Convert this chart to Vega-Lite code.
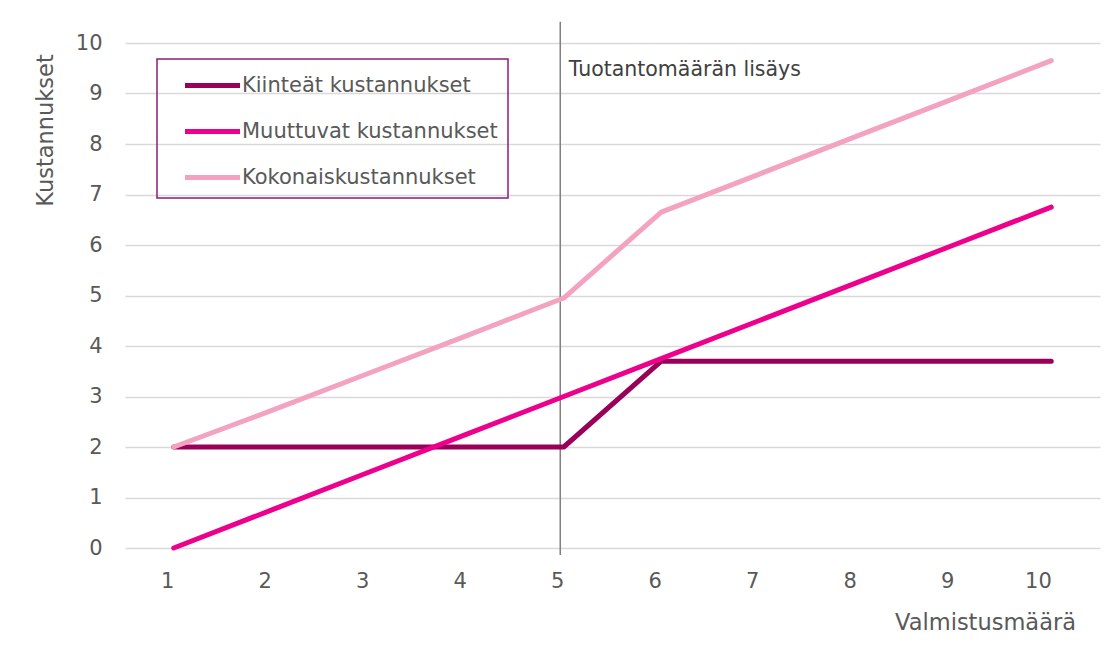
{
  "$schema": "https://vega.github.io/schema/vega-lite/v6.json",
  "width": 975,
  "height": 505,
  "autosize": {"type": "none"},
  "padding": {"left": 125, "top": 43, "right": 13, "bottom": 102},
  "background": "white",
  "config": {"view": {"stroke": null}, "font": "DejaVu Sans", "legend": {"strokeWidth": 1.5}},
  "datasets": {
    "costs": [
      {"maara": 1, "sarja": "Kiinteät kustannukset", "arvo": 2},
      {"maara": 2, "sarja": "Kiinteät kustannukset", "arvo": 2},
      {"maara": 3, "sarja": "Kiinteät kustannukset", "arvo": 2},
      {"maara": 4, "sarja": "Kiinteät kustannukset", "arvo": 2},
      {"maara": 5, "sarja": "Kiinteät kustannukset", "arvo": 2},
      {"maara": 6, "sarja": "Kiinteät kustannukset", "arvo": 3.7},
      {"maara": 7, "sarja": "Kiinteät kustannukset", "arvo": 3.7},
      {"maara": 8, "sarja": "Kiinteät kustannukset", "arvo": 3.7},
      {"maara": 9, "sarja": "Kiinteät kustannukset", "arvo": 3.7},
      {"maara": 10, "sarja": "Kiinteät kustannukset", "arvo": 3.7},
      {"maara": 1, "sarja": "Muuttuvat kustannukset", "arvo": 0},
      {"maara": 2, "sarja": "Muuttuvat kustannukset", "arvo": 0.75},
      {"maara": 3, "sarja": "Muuttuvat kustannukset", "arvo": 1.5},
      {"maara": 4, "sarja": "Muuttuvat kustannukset", "arvo": 2.25},
      {"maara": 5, "sarja": "Muuttuvat kustannukset", "arvo": 3},
      {"maara": 6, "sarja": "Muuttuvat kustannukset", "arvo": 3.75},
      {"maara": 7, "sarja": "Muuttuvat kustannukset", "arvo": 4.5},
      {"maara": 8, "sarja": "Muuttuvat kustannukset", "arvo": 5.25},
      {"maara": 9, "sarja": "Muuttuvat kustannukset", "arvo": 6},
      {"maara": 10, "sarja": "Muuttuvat kustannukset", "arvo": 6.75},
      {"maara": 1, "sarja": "Kokonaiskustannukset", "arvo": 2},
      {"maara": 2, "sarja": "Kokonaiskustannukset", "arvo": 2.72},
      {"maara": 3, "sarja": "Kokonaiskustannukset", "arvo": 3.46},
      {"maara": 4, "sarja": "Kokonaiskustannukset", "arvo": 4.2},
      {"maara": 5, "sarja": "Kokonaiskustannukset", "arvo": 4.95},
      {"maara": 6, "sarja": "Kokonaiskustannukset", "arvo": 6.65},
      {"maara": 7, "sarja": "Kokonaiskustannukset", "arvo": 7.4},
      {"maara": 8, "sarja": "Kokonaiskustannukset", "arvo": 8.15},
      {"maara": 9, "sarja": "Kokonaiskustannukset", "arvo": 8.9},
      {"maara": 10, "sarja": "Kokonaiskustannukset", "arvo": 9.65}
    ],
    "marker": [
      {"maara": 5, "ylin": 10.42, "alin": -0.14, "teksti": "Tuotantomäärän lisäys", "ty": 9.47}
    ]
  },
  "layer": [
    {
      "data": {"name": "marker"},
      "mark": {"type": "rule", "color": "#808080", "strokeWidth": 1.5, "xOffset": -3.5},
      "encoding": {
        "x": {"field": "maara", "type": "ordinal"},
        "y": {"field": "ylin", "type": "quantitative"},
        "y2": {"field": "alin"}
      }
    },
    {
      "data": {"name": "marker"},
      "mark": {"type": "text", "align": "left", "baseline": "middle", "dx": 5, "fontSize": 20.5, "color": "#404040"},
      "encoding": {
        "x": {"field": "maara", "type": "ordinal"},
        "y": {"field": "ty", "type": "quantitative"},
        "text": {"field": "teksti"}
      }
    },
    {
      "data": {"name": "costs"},
      "mark": {"type": "line", "strokeWidth": 5, "strokeCap": "round", "strokeJoin": "round"},
      "encoding": {
        "x": {
          "field": "maara",
          "type": "ordinal",
          "scale": {"type": "point", "padding": 0.5, "domain": [1, 2, 3, 4, 5, 6, 7, 8, 9, 10]},
          "axis": {
            "labelAngle": 0,
            "domain": false,
            "ticks": false,
            "grid": false,
            "labelPadding": 33,
            "labelFontSize": 21,
            "labelColor": "#595959",
            "title": "Valmistusmäärä",
            "titleFontSize": 22.5,
            "titleFontWeight": "normal",
            "titleColor": "#595959",
            "titleX": 860,
            "titleY": 74,
            "titleAlign": "center",
            "titleBaseline": "middle"
          }
        },
        "y": {
          "field": "arvo",
          "type": "quantitative",
          "scale": {"domain": [0, 10], "nice": false},
          "axis": {
            "values": [0, 1, 2, 3, 4, 5, 6, 7, 8, 9, 10],
            "domain": false,
            "ticks": false,
            "grid": true,
            "gridColor": "#d9d9d9",
            "gridWidth": 1.5,
            "labelPadding": 23,
            "labelFontSize": 21,
            "labelColor": "#595959",
            "title": "Kustannukset",
            "titleFontSize": 22.5,
            "titleFontWeight": "normal",
            "titleColor": "#595959",
            "titleX": -80,
            "titleY": 87,
            "titleAngle": -90,
            "titleAlign": "center",
            "titleBaseline": "middle"
          }
        },
        "color": {
          "field": "sarja",
          "type": "nominal",
          "scale": {
            "domain": ["Kiinteät kustannukset", "Muuttuvat kustannukset", "Kokonaiskustannukset"],
            "range": ["#99005A", "#EC008C", "#F3A3BF"]
          },
          "legend": {
            "orient": "none",
            "legendX": 32,
            "legendY": 16,
            "title": null,
            "symbolType": "M-2,0H2",
            "symbolSize": 756,
            "symbolStrokeWidth": 5,
            "symbolOffset": 29,
            "labelFontSize": 21,
            "labelColor": "#595959",
            "labelOffset": 13,
            "labelLimit": 400,
            "strokeColor": "#8C1C7C",
            "padding": 10,
            "rowPadding": 19
          }
        }
      }
    }
  ]
}
